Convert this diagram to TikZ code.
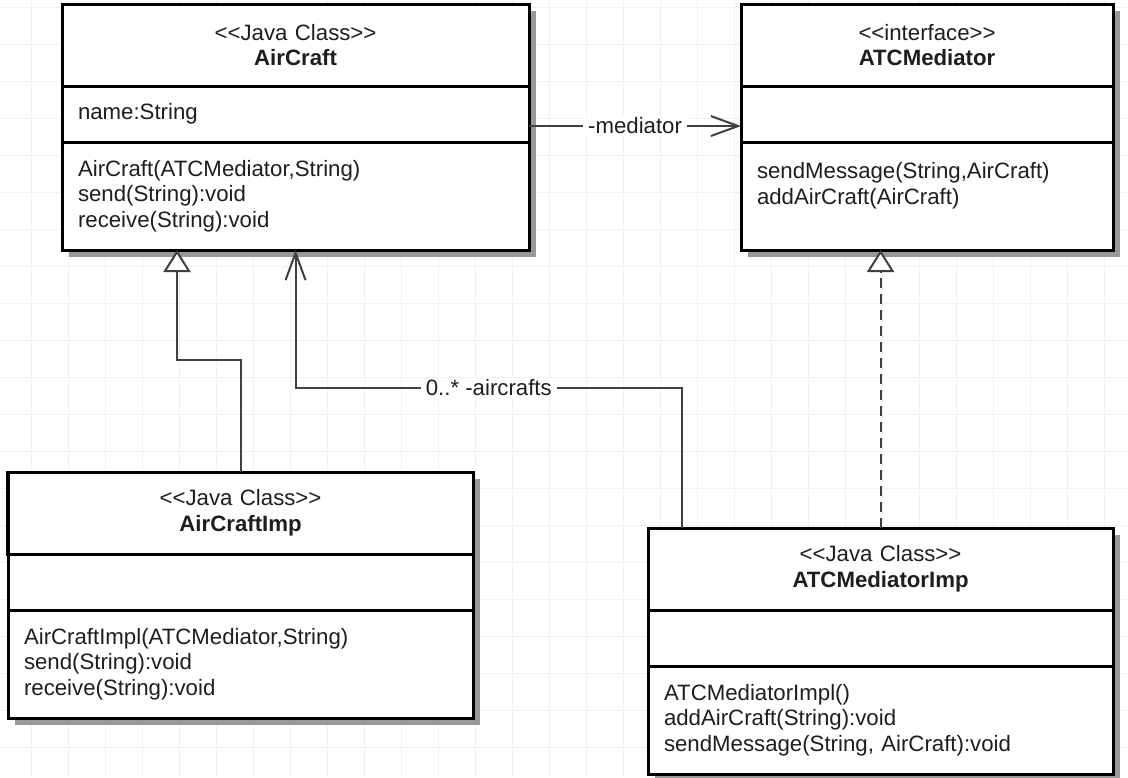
\documentclass[tikz,border=0pt]{standalone}
\usepackage{fontspec}
\setmainfont{Liberation Sans}
\usetikzlibrary{arrows.meta,shapes,positioning,calc,shadows}

\definecolor{gridline}{RGB}{240,240,247}
\definecolor{umlink}{RGB}{30,30,30}
\newcommand{\umlsize}{\fontsize{15.8pt}{18.2pt}\selectfont}
\newcommand{\stereo}[1]{<\kern0pt<#1>\kern0pt>}

\begin{document}
\begin{tikzpicture}[x=0.025cm, y=-0.025cm]
	\tikzstyle{umlpart} = [
		draw=black,
		line width=0.075cm,
		fill=white,
		inner sep=0pt,
		outer sep=0pt,
		text=umlink,
		font=\umlsize,
		drop shadow={shadow xshift=0.18cm, shadow yshift=-0.18cm, fill=black!40, opacity=1}
	]
	\tikzstyle{umlhead} = [umlpart, minimum height=2.05cm, align=center]
	\tikzstyle{umlfield} = [umlpart, minimum height=1.4cm, inner xsep=0.4cm, align=left]
	\tikzstyle{umlmethod} = [umlpart, minimum height=2.7cm, inner xsep=0.4cm, align=left]
	\tikzstyle{generalize} = [draw=black!75, line width=0.05cm, -{Triangle[length=0.55cm, width=0.68cm, fill=white]}]
	\tikzstyle{realize} = [generalize, dash pattern=on 0.25cm off 0.15cm]
	\tikzstyle{navigate} = [draw=black!75, line width=0.05cm, -{Straight Barb[length=0.68cm, width=0.5cm]}]
	\tikzstyle{edgelabel} = [fill=white, inner xsep=0.12cm, inner ysep=0.05cm, text=umlink, font=\umlsize]

	\useasboundingbox (0,0) rectangle (1128,777);
	\fill[white] (0,0) rectangle (1128,777);
	\foreach \gx in {31,68,...,1128} \draw[gridline, line width=0.025cm] (\gx,0) -- (\gx,777);
	\foreach \gy in {7,44,...,777} \draw[gridline, line width=0.025cm] (0,\gy) -- (1128,\gy);

	% AirCraft
	\node (ac-head) [umlhead, text width=11.675cm, anchor=north west] at (62,4) {\stereo{Java Class}\\\textbf{AirCraft}};
	\node (ac-field) [umlfield, text width=10.875cm, below=0pt of ac-head] {name:String};
	\node (ac-method) [umlmethod, text width=10.875cm, below=0pt of ac-field] {AirCraft(ATCMediator,String)\\send(String):void\\receive(String):void};

	% ATCMediator
	\node (atc-head) [umlhead, text width=9.3cm, anchor=north west] at (741,4) {\stereo{interface}\\\textbf{ATCMediator}};
	\node (atc-field) [umlfield, text width=8.5cm, below=0pt of atc-head] {};
	\node (atc-method) [umlmethod, text width=8.5cm, below=0pt of atc-field] {sendMessage(String,AirCraft)\\addAirCraft(AirCraft)\\\mbox{}};

	% AirCraftImp
	\node (acimp-head) [umlhead, text width=11.625cm, anchor=north west] at (8,472) {\stereo{Java Class}\\\textbf{AirCraftImp}};
	\node (acimp-field) [umlfield, text width=10.825cm, below=0pt of acimp-head] {};
	\node (acimp-method) [umlmethod, text width=10.825cm, below=0pt of acimp-field] {AirCraftImpl(ATCMediator,String)\\send(String):void\\receive(String):void};

	% ATCMediatorImp
	\node (atcimp-head) [umlhead, text width=11.625cm, anchor=north west] at (648,528) {\stereo{Java Class}\\\textbf{ATCMediatorImp}};
	\node (atcimp-field) [umlfield, text width=10.825cm, below=0pt of atcimp-head] {};
	\node (atcimp-method) [umlmethod, text width=10.825cm, below=0pt of atcimp-field] {ATCMediatorImpl()\\addAirCraft(String):void\\sendMessage(String, AirCraft):void};

	\coordinate (gen-bend) at (177,360);
	\coordinate (assoc-bend) at (682,388);

	\draw[navigate] ($(ac-field.east)+(0,12)$) -- ($(atc-field.west)+(0,12)$) node[midway, edgelabel] {-mediator};
	\draw[generalize] (acimp-head.north) |- (gen-bend) -- (gen-bend |- ac-method.south);
	\draw[navigate] (assoc-bend |- atcimp-head.north) -- (assoc-bend) -| (ac-method.south) node[pos=0.25, edgelabel] {0..* -aircrafts};
	\draw[realize] (atcimp-head.north) -- (atcimp-head.north |- atc-method.south);

\end{tikzpicture}
\end{document}
